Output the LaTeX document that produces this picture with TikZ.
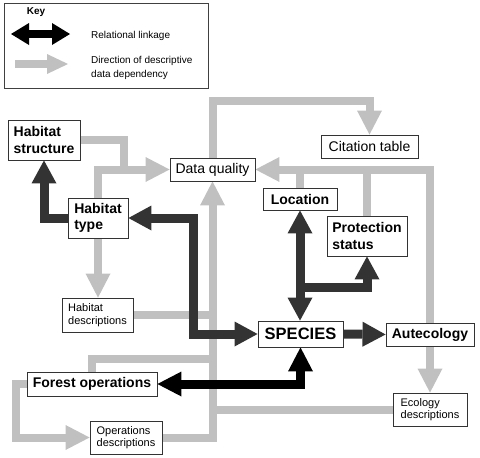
\documentclass[tikz,border=0pt]{standalone}
\usepackage{fontspec}
\setmainfont{Liberation Sans}
\usetikzlibrary{arrows.meta,backgrounds}
\definecolor{lgray}{RGB}{192,192,192}
\definecolor{dgray}{RGB}{51,51,51}
\tikzset{
  box/.style={draw=black!80, line width=0.9pt, fill=white, inner sep=0pt, align=left},
  bl/.style={box, font=\fontsize{14}{16.5}\selectfont\bfseries},
  rg/.style={box, font=\fontsize{14}{16.5}\selectfont},
  sm/.style={box, font=\fontsize{11}{12.5}\selectfont},
  keytext/.style={inner sep=0pt, align=left, font=\fontsize{10}{14}\selectfont},
  gtip/.tip={Triangle[width=25pt,length=24pt,line width=0pt]},
  dtip/.tip={Triangle[width=25pt,length=23pt,line width=0pt]},
  gl/.style={draw=lgray, line width=8pt},
  ga/.style={gl, -gtip},
  dl/.style={draw=dgray, line width=9pt},
  da/.style={dl, -dtip},
  dab/.style={dl, dtip-dtip},
  bab/.style={draw=black, line width=9pt, gtip-gtip},
}
\begin{document}
\begin{tikzpicture}[x=1pt,y=-1pt]
\useasboundingbox (0,0) rectangle (480,458);

% key
\node[draw=black!75, line width=0.9pt, minimum width=204pt, minimum height=85pt, inner sep=0pt] (key) at (106,45.5) {};
\node[inner sep=0pt, font=\fontsize{10}{12}\selectfont\bfseries] (keyt) at (36,12.5) {Key};
\coordinate (k1) at (11,34);
\coordinate (k2) at (70,34);
\draw[draw=black, line width=8pt, {Triangle[width=22pt,length=18pt,line width=0pt]}-{Triangle[width=22pt,length=18pt,line width=0pt]}] (k1) -- (k2);
\node[keytext, anchor=west] (krel) at (91,35.5) {Relational linkage};
\coordinate (k3) at (15,64);
\coordinate (k4) at (68,64);
\draw[draw=lgray, line width=8pt, -{Triangle[width=20pt,length=21pt,line width=0pt]}] (k3) -- (k4);
\node[keytext, anchor=west] (kdir) at (91,67.5) {Direction of descriptive\\data dependency};

% nodes
\node[bl, minimum width=72pt, minimum height=40pt] (hs) at (44,140) {Habitat\\structure};
\node[bl, minimum width=60pt, minimum height=40pt] (ht) at (98,218) {Habitat\\type};
\node[rg, minimum width=85pt, minimum height=23pt] (dq) at (212.5,169.5) {Data quality};
\node[rg, minimum width=97pt, minimum height=23pt] (ct) at (369.5,146.5) {Citation table};
\node[bl, minimum width=74pt, minimum height=22pt] (loc) at (300,199) {Location};
\node[bl, minimum width=80pt, minimum height=40pt] (ps) at (367,236) {Protection\\status};
\node[bl, font=\fontsize{16.5}{18}\selectfont\bfseries, minimum width=85pt, minimum height=26pt] (sp) at (300.5,334) {SPECIES};
\node[bl, minimum width=88pt, minimum height=23pt] (au) at (430,334.5) {Autecology};
\node[sm, minimum width=74pt, minimum height=33pt] (ed) at (430,409.5) {Ecology\\descriptions};
\node[sm, minimum width=71pt, minimum height=34pt] (hd) at (97.5,315) {Habitat\\descriptions};
\node[bl, minimum width=130pt, minimum height=24pt] (fo) at (92,384) {Forest operations};
\node[sm, minimum width=72pt, minimum height=33pt] (od) at (126,437.5) {Operations\\descriptions};

% junction coordinates
\coordinate (c1) at (124,169.5);
\coordinate (j5) at (212.5,359);
\coordinate (j6) at (16,410);
\coordinate (j8) at (290,101);
\coordinate (d2) at (193,280);
\coordinate (d4) at (296,287);

\begin{pgfonlayer}{background}
% gray dependencies
\draw[ga] (hs.east) -| (c1) -- (dq.west);
\draw[gl] (ht.north) |- (c1);
\draw[ga] (ht.south) -- (ht.south |- hd.north);
\draw[gl] (hd.east) -- (hd.east -| dq.south);
\draw[ga] (od.east) -| (dq.south);
\draw[gl] (fo.north) |- (j5);
\draw[ga] (fo.west) -| (j6) |- (od.west);
\draw[gl] (ed.west) -- (ed.west -| dq.south);
\draw[ga] (dq.north) |- (j8) -| (ct.north);
\draw[ga] (au.north) |- (dq.east);
\draw[ga] (au.south) -- (ed.north);
\draw[gl] (loc.north) -- (loc.north |- dq.east);
\draw[gl] (ps.north) -- (ps.north |- dq.east);
% relational linkages
\draw[da] (ht.west) -| (hs.south);
\draw[dab] (sp.west) -| (d2) |- (ht.east);
\draw[dab] (loc.south) -- (loc.south |- sp.north);
\draw[da] (d4) -| (ps.south);
\draw[da] (sp.east) -- (au.west);
\draw[bab] (sp.south) |- (fo.east);
\end{pgfonlayer}
\end{tikzpicture}
\end{document}
